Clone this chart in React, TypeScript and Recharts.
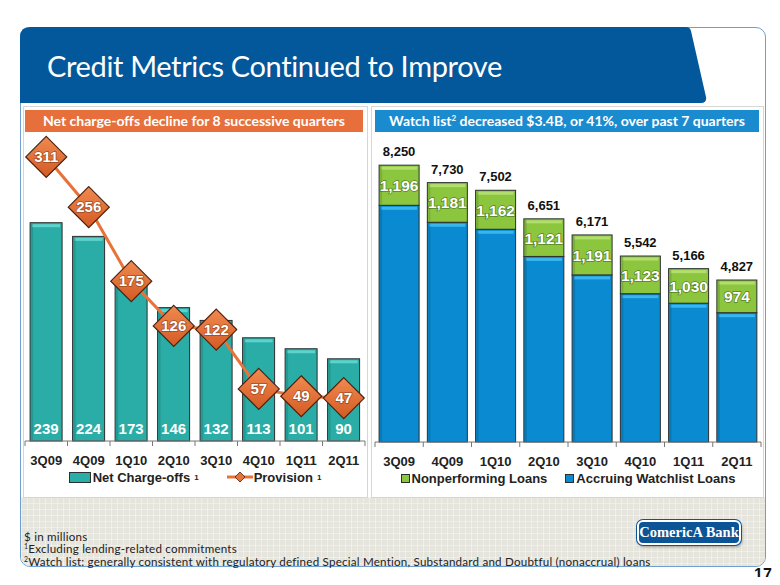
import React from "react"
import { ComposedChart, BarChart, Bar, Line, XAxis, YAxis, LabelList, Legend } from "recharts"

const quarters = ["3Q09", "4Q09", "1Q10", "2Q10", "3Q10", "4Q10", "1Q11", "2Q11"]
const netChargeOffs = [239, 224, 173, 146, 132, 113, 101, 90]
const provision = [311, 256, 175, 126, 122, 57, 49, 47]
const nonperforming = [1196, 1181, 1162, 1121, 1191, 1123, 1030, 974]
const accruing = [7054, 6549, 6340, 5530, 4980, 4419, 4136, 3853]
const watchTotals = [8250, 7730, 7502, 6651, 6171, 5542, 5166, 4827]

const leftData = quarters.map((q, i) => ({ q, nco: netChargeOffs[i], prov: provision[i] }))
const rightData = quarters.map((q, i) => ({ q, npl: nonperforming[i], acc: accruing[i], total: watchTotals[i] }))

const ARIAL = "'Liberation Sans', Arial, sans-serif"
const CAL = "Lato, 'Open Sans', sans-serif"

const fmt = (v: number) => v.toLocaleString("en-US")

// boundary ticks between categories, like the PowerPoint axis
function makeTick(step: number, count: number) {
  return (props: any) => {
    const { x, y, payload, index } = props
    const h = step / 2
    return (
      <g>
        <line x1={x - h} x2={x - h} y1={y} y2={y + 5} stroke="#777" />
        {index === count - 1 && <line x1={x + h} x2={x + h} y1={y} y2={y + 5} stroke="#777" />}
        <text x={x} y={y + 23.5} textAnchor="middle" fontSize={13} fontWeight="bold" fill="#222" fontFamily={ARIAL}>
          {payload.value}
        </text>
      </g>
    )
  }
}

function CubeBar(props: any) {
  const { x, y, width, height, fill, light } = props
  if (!height || height <= 0) return null
  return (
    <g>
      <rect x={x} y={y} width={width} height={height} fill={fill} stroke="#2b2f2f" strokeWidth={1} />
      <rect x={x + 2} y={y + 1.5} width={width - 4} height={3} fill={light} />
      <rect x={x + 1} y={y + 1} width={2} height={height - 2} fill="rgba(0,0,0,0.12)" />
    </g>
  )
}

function Diamond(props: any) {
  const { cx, cy, value, index } = props
  if (cx == null || cy == null) return null
  const r = 20.5
  return (
    <g key={"d" + index}>
      <defs>
        <linearGradient id={"dg" + index} x1="0" y1="0" x2="0" y2="1">
          <stop offset="0%" stopColor="#F08A50" />
          <stop offset="100%" stopColor="#D45A24" />
        </linearGradient>
      </defs>
      <polygon
        points={`${cx},${cy - r} ${cx + r},${cy} ${cx},${cy + r} ${cx - r},${cy}`}
        fill={`url(#dg${index})`}
        stroke="#4a2210"
        strokeWidth={1.2}
      />
      <text x={cx} y={cy + 5} textAnchor="middle" fontSize={15} fontWeight="bold" fill="#fff" fontFamily={ARIAL}
        style={{ paintOrder: "stroke" }} stroke="rgba(90,40,10,0.5)" strokeWidth={1.5}>
        {value}
      </text>
    </g>
  )
}

function LeftLegend() {
  return (
    <div style={{ display: "flex", justifyContent: "center", alignItems: "center", fontFamily: ARIAL, fontSize: 13, fontWeight: "bold", color: "#222", height: 20, marginTop: 2 }}>
      <span style={{ display: "inline-block", width: 20, height: 9, background: "#2AADA6", border: "1px solid #2b2f2f", marginRight: 2 }} />
      <span>Net Charge-offs</span>
      <sup style={{ fontSize: 8, marginLeft: 4, marginRight: 28 }}>1</sup>
      <svg width={26} height={12} style={{ marginRight: 1 }}>
        <line x1={0} x2={26} y1={6} y2={6} stroke="#E8733A" strokeWidth={3} />
        <polygon points="13,1 18,6 13,11 8,6" fill="#E8733A" stroke="#4a2210" strokeWidth={0.8} />
      </svg>
      <span>Provision</span>
      <sup style={{ fontSize: 8, marginLeft: 4 }}>1</sup>
    </div>
  )
}

function RightLegend() {
  const box = (c: string) => (
    <span style={{ display: "inline-block", width: 7, height: 7, background: c, border: "1px solid #2b2f2f", marginRight: 2 }} />
  )
  return (
    <div style={{ display: "flex", justifyContent: "center", alignItems: "center", fontFamily: ARIAL, fontSize: 13, fontWeight: "bold", color: "#222", height: 20, marginTop: 2 }}>
      {box("#8CC63F")}
      <span style={{ marginRight: 18 }}>Nonperforming Loans</span>
      {box("#0A8AD0")}
      <span>Accruing Watchlist Loans</span>
    </div>
  )
}

function LeftChart() {
  const w = 346
  const step = (w - 6) / quarters.length
  return (
    <ComposedChart width={w} height={357} data={leftData} margin={{ top: 3, right: 3, left: 3, bottom: 2 }} barCategoryGap="12%">
      <XAxis dataKey="q" tickSize={0} tickMargin={0} height={24} stroke="#777" tick={makeTick(step, quarters.length)} interval={0} />
      <YAxis width={0} domain={[0, 335]} tick={false} stroke="#888" />
      <Bar dataKey="nco" fill="#2AADA6" isAnimationActive={false}
        shape={(p: any) => <CubeBar {...p} fill="#2AADA6" light="#5ED3CC" />}>
        <LabelList dataKey="nco" content={(p: any) => (
          <text x={p.x + p.width / 2} y={p.y + p.height - 7} textAnchor="middle" fontSize={15} fontWeight="bold" fill="#fff" fontFamily={ARIAL}>
            {p.value}
          </text>
        )} />
      </Bar>
      <Line dataKey="prov" stroke="#E8733A" strokeWidth={3} isAnimationActive={false}
        dot={(p: any) => <Diamond {...p} key={"dm" + p.index} />} activeDot={false} />
      <Legend verticalAlign="bottom" height={22} content={() => <LeftLegend />} />
    </ComposedChart>
  )
}

function RightChart() {
  const w = 392
  const step = (w - 6) / quarters.length
  return (
    <BarChart width={w} height={353} data={rightData} margin={{ top: 3, right: 3, left: 3, bottom: 2 }} barCategoryGap="8.5%">
      <XAxis dataKey="q" tickSize={0} tickMargin={0} height={24} stroke="#777" tick={makeTick(step, quarters.length)} interval={0} />
      <YAxis width={0} domain={[0, 9000]} tick={false} stroke="#888" />
      <Bar dataKey="acc" stackId="w" fill="#0A8AD0" isAnimationActive={false}
        shape={(p: any) => <CubeBar {...p} fill="#0A8AD0" light="#38B6EE" />} />
      <Bar dataKey="npl" stackId="w" fill="#8CC63F" isAnimationActive={false}
        shape={(p: any) => <CubeBar {...p} fill="#8CC63F" light="#B2DE6E" />}>
        <LabelList dataKey="npl" content={(p: any) => (
          <text x={p.x + p.width / 2} y={p.y + p.height / 2 + 6} textAnchor="middle" fontSize={15.5} fontWeight="bold" fill="#fff" fontFamily={ARIAL}
            style={{ paintOrder: "stroke" }} stroke="rgba(40,70,10,0.55)" strokeWidth={1.5}>
            {fmt(p.value)}
          </text>
        )} />
        <LabelList dataKey="total" content={(p: any) => (
          <text x={p.x + p.width / 2} y={p.y - 9} textAnchor="middle" fontSize={13} fontWeight="bold" fill="#111" fontFamily={ARIAL}>
            {fmt(p.value)}
          </text>
        )} />
      </Bar>
      <Legend verticalAlign="bottom" height={22} content={() => <RightLegend />} />
    </BarChart>
  )
}

export default function App() {
  const sup = { fontSize: 7, verticalAlign: "top", lineHeight: "7px" } as const
  const line = { height: 12.4, lineHeight: "12.4px", whiteSpace: "nowrap" } as const
  return (
    <div style={{ position: "relative", width: 780, height: 585, background: "#fff", overflow: "hidden", margin: -8, fontFamily: CAL }}>
      {/* slide frame */}
      <div style={{ position: "absolute", left: 20, top: 27, width: 746, height: 540, border: "1px solid #6F9ED2", borderRadius: 10, background: "#fff", boxSizing: "border-box" }} />
      {/* footer band */}
      <div style={{ position: "absolute", left: 21, top: 497, width: 744, height: 69, background: "#E6E5DD", borderRadius: "0 0 9px 9px",
        backgroundImage: "linear-gradient(rgba(255,255,255,0.35) 1px, transparent 1px), linear-gradient(90deg, rgba(255,255,255,0.35) 1px, transparent 1px)",
        backgroundSize: "6px 6px" }} />
      {/* title banner */}
      <svg width={780} height={110} style={{ position: "absolute", left: 0, top: 0 }}>
        <path d="M20,37 Q20,27 30,27 L686,27 Q690,27 691,31 L706,97 Q707,103 701,103 L20,103 Z" fill="#03589B" />
      </svg>
      <div style={{ position: "absolute", left: 47, top: 48, color: "#fff", fontSize: 29, fontFamily: CAL, letterSpacing: -0.35 }}>
        Credit Metrics Continued to Improve
      </div>
      {/* panels */}
      <div style={{ position: "absolute", left: 23, top: 106, width: 343, height: 390, border: "1px solid #d6d6d6", background: "#fff" }} />
      <div style={{ position: "absolute", left: 371, top: 106, width: 391, height: 390, border: "1px solid #d6d6d6", background: "#fff" }} />
      <div style={{ position: "absolute", left: 25, top: 110, width: 338, height: 22, background: "#E66F3C", color: "#fff", fontWeight: "bold", fontSize: 14, textAlign: "center", lineHeight: "22px" }}>
        Net charge-offs decline for 8 successive quarters
      </div>
      <div style={{ position: "absolute", left: 375, top: 110, width: 384, height: 22, background: "#1B8BD0", color: "#fff", fontWeight: "bold", fontSize: 14, textAlign: "center", lineHeight: "22px" }}>
        Watch list<sup style={{ fontSize: 8, verticalAlign: "top", lineHeight: "16px" }}>2</sup> decreased $3.4B, or 41%, over past 7 quarters
      </div>
      <div style={{ position: "absolute", left: 22, top: 132 }}>
        <LeftChart />
      </div>
      <div style={{ position: "absolute", left: 372, top: 137 }}>
        <RightChart />
      </div>
      {/* footnotes */}
      <div style={{ position: "absolute", left: 24, top: 531, fontSize: 11.6, letterSpacing: 0.22, color: "#222", fontFamily: CAL }}>
        <div style={line}>$ in millions</div>
        <div style={line}><sup style={sup}>1</sup>Excluding lending-related commitments</div>
        <div style={line}><sup style={sup}>2</sup>Watch list: generally consistent with regulatory defined Special Mention, Substandard and Doubtful (nonaccrual) loans</div>
      </div>
      {/* logo */}
      <div style={{ position: "absolute", left: 637, top: 520, width: 104, height: 25, background: "#0B5496", border: "2px solid #fff", borderRadius: 6, boxShadow: "0 0 0 1px #0B5496, 1px 2px 3px rgba(0,0,0,0.35)", color: "#fff", fontFamily: "'Liberation Serif', serif", fontSize: 14.5, fontWeight: "bold", textAlign: "center", lineHeight: "21px", boxSizing: "border-box" }}>
        ComericA Bank
      </div>
      <div style={{ position: "absolute", left: 754, top: 567, fontFamily: ARIAL, fontWeight: "bold", fontSize: 16, lineHeight: "16px", color: "#111" }}>17</div>
    </div>
  )
}
